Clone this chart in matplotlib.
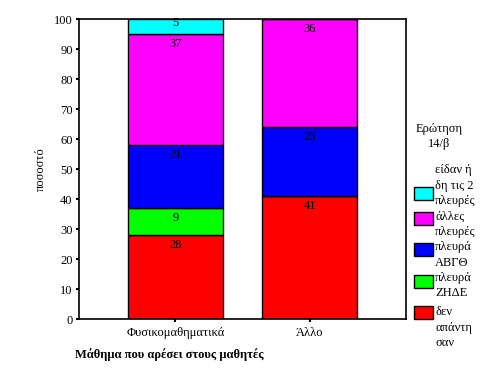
import numpy as np
import matplotlib
matplotlib.use("Agg")
import matplotlib.pyplot as plt
from matplotlib.patches import Rectangle

plt.rcParams['font.family'] = ['Liberation Serif', 'DejaVu Serif']

# data (percent)
categories = ['Φυσικομαθηματικά', 'Άλλο']
answers = ['δεν\nαπάντη\nσαν', 'πλευρά\nΖΗΔΕ', 'πλευρά\nΑΒΓΘ', 'άλλες\nπλευρές', 'είδαν ή\nδη τις 2\nπλευρές']
values = {
    'δεν απάντησαν': [28, 41],
    'πλευρά ΖΗΔΕ': [9, 0],
    'πλευρά ΑΒΓΘ': [21, 23],
    'άλλες πλευρές': [37, 36],
    'είδαν ήδη τις 2 πλευρές': [5, 0],
}
colors = ['#ff0000', '#00ff00', '#0000ff', '#ff00ff', '#00ffff']
yticks = [0, 10, 20, 30, 40, 50, 60, 70, 80, 90, 100]

fig = plt.figure(figsize=(4.8, 3.84), dpi=100)
ax = fig.add_axes([79/480, 65/384, 327/480, 300/384])

x = np.arange(len(categories))
bottom = np.zeros(len(categories))
for (name, vals), col in zip(values.items(), colors):
    vals = np.array(vals, dtype=float)
    ax.bar(x, vals, 0.706, bottom=bottom, color=col, edgecolor='black', linewidth=1.0)
    for xi, v, b in zip(x, vals, bottom):
        if v <= 0:
            continue
        if v < 8:
            ax.text(xi, b + v / 2 + 1, f'{v:.0f}', ha='center', va='center', fontsize=9)
        else:
            ax.annotate(f'{v:.0f}', (xi, b + v), xytext=(0, -3), textcoords='offset points',
                        ha='center', va='top', fontsize=9)
    bottom += vals

ax.set_xlim(-0.717, 1.714)
ax.set_ylim(0, 100)
ax.set_yticks(yticks)
ax.set_xticks(x)
ax.set_xticklabels(categories, fontsize=9)
ax.tick_params(axis='y', length=2.5, width=1.5, labelsize=9, pad=2)
ax.tick_params(axis='x', length=2.5, width=1.5, labelsize=9, pad=3)
for s in ax.spines.values():
    s.set_linewidth(1.2)
ax.set_ylabel('ποσοστό', fontsize=9, labelpad=5)
fig.text(75/480, 1 - 355/384, 'Μάθημα που αρέσει στους μαθητές', fontsize=9,
         fontweight='bold', ha='left', va='center')

# legend drawn by hand to match the original layout
fig.text(439/480, 1 - 129/384, 'Ερώτηση', fontsize=9, ha='center', va='center')
fig.text(439/480, 1 - 144/384, '14/β', fontsize=9, ha='center', va='center')
leg_items = [
    (colors[4], 187, 170, answers[4]),
    (colors[3], 212, 217, answers[3]),
    (colors[2], 243, 247, answers[2]),
    (colors[1], 275, 278, answers[1]),
    (colors[0], 306, 312, answers[0]),
]
for col, sw_top, txt_y, label in leg_items:
    fig.patches.append(Rectangle((414/480, 1 - (sw_top + 13)/384), 19/480, 13/384,
                                 transform=fig.transFigure, facecolor=col,
                                 edgecolor='black', linewidth=1.0))
    for i, line in enumerate(label.split('\n')):
        fig.text(435/480, 1 - (txt_y + i * 15.5)/384, line, fontsize=9, ha='left', va='center')

fig.savefig('out.png', dpi=100)
